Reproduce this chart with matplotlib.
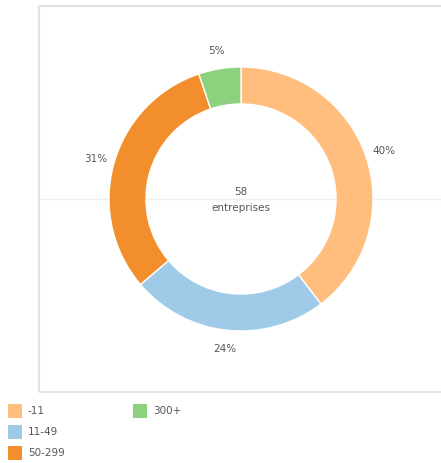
import matplotlib.pyplot as plt
from matplotlib.patches import Rectangle

categories = ['-11', '11-49', '50-299', '300+']
counts = [23, 14, 18, 3]
colors = ['#FFBE7D', '#A0CBE8', '#F28E2B', '#8CD17D']
total_label = '58\nentreprises'

W, H = 441, 463
fig = plt.figure(figsize=(W / 100, H / 100), dpi=100)
ax = fig.add_axes([0, 0, 1, 1])

txt = '#555555'

# panel frame + faint gridline behind the donut
ax.add_patch(Rectangle((38.5, H - 392), 420, 386, fill=False,
                       edgecolor='#e2e2e2', linewidth=1.5, zorder=0))
ax.plot([39, W], [H - 199, H - 199], color='#efefef', linewidth=1, zorder=0)

cx, cy, r = 241, H - 199, 132
wedges, texts, autotexts = ax.pie(
    counts, colors=colors, startangle=90, counterclock=False,
    center=(cx, cy), radius=r, frame=True,
    autopct=lambda p: f'{p:.0f}%', pctdistance=1.14,
    wedgeprops=dict(width=r * 0.28, edgecolor='white', linewidth=1,
                    zorder=2))
for t in autotexts:
    t.set_color(txt)
    t.set_fontsize(7.5)
ax.set_xlim(0, W)
ax.set_ylim(0, H)
ax.set_aspect('equal')
ax.axis('off')

ax.text(cx, cy - 1, total_label, ha='center', va='center',
        fontsize=7.5, color=txt, linespacing=1.75)

# legend: first three in one column, the rest in a second column
for i, (lab, col) in enumerate(zip(categories, colors)):
    colx = 8 if i < 3 else 133
    row = i if i < 3 else i - 3
    y = H - 411 - row * 21
    ax.add_patch(Rectangle((colx, y - 7), 14, 14, facecolor=col,
                           edgecolor='none'))
    ax.text(colx + 20, y, lab, ha='left', va='center', fontsize=7.5,
            color=txt)

fig.savefig('out.png', dpi=100, facecolor='white')
